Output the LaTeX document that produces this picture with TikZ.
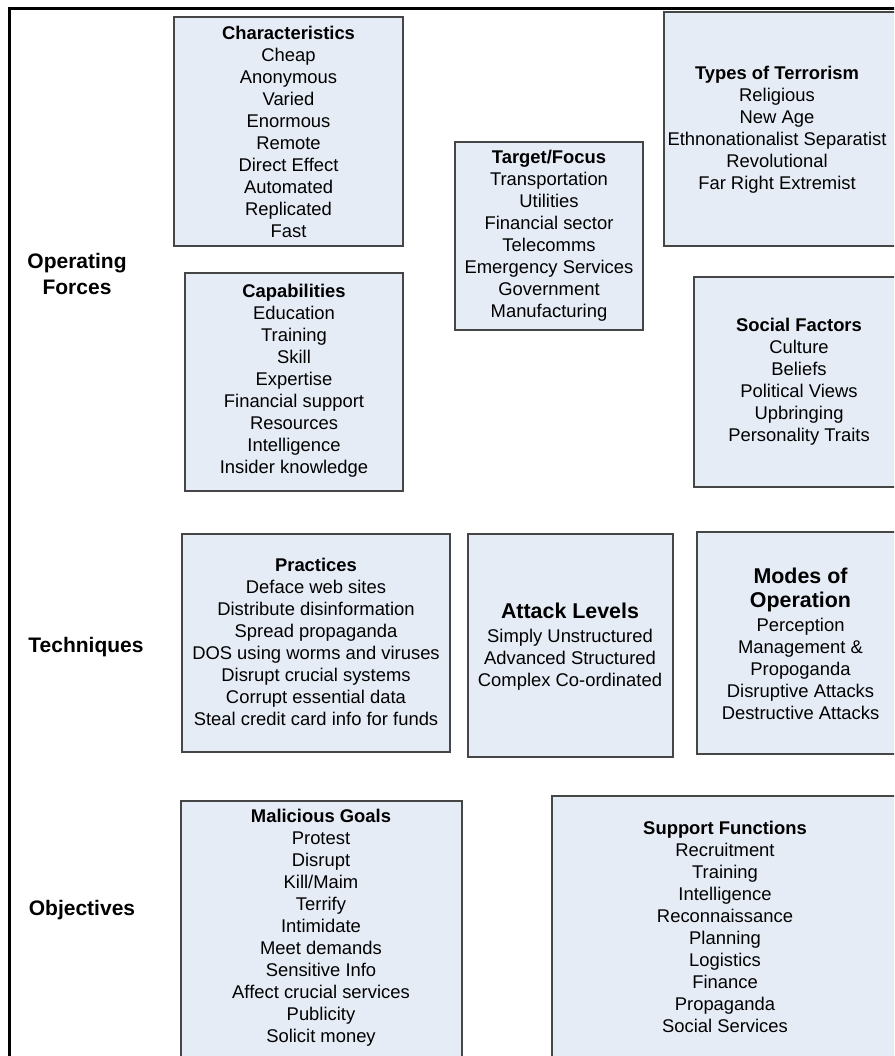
\documentclass[tikz,border=0pt]{standalone}
\usepackage{fontspec}
\setmainfont{Liberation Sans}
\definecolor{boxfill}{RGB}{230,236,246}
\definecolor{boxline}{RGB}{70,70,70}
\tikzset{
  boxshape/.style={draw=boxline, fill=boxfill, line width=1.3pt, rectangle, inner sep=0pt},
  boxtext/.style={align=center, inner sep=0pt, font=\fontsize{18.4}{22}\selectfont},
  sidelabel/.style={align=center, inner sep=0pt, font=\fontsize{21}{26}\selectfont\bfseries},
}
\newcommand{\bigHead}[1]{{\fontsize{21.4}{25}\selectfont\bfseries #1}}
\begin{document}
\begin{tikzpicture}[x=1pt,y=-1pt]
\useasboundingbox (0,0) rectangle (894,1056);
\clip (0,0) rectangle (894,1056);
% outer frame
\draw[line width=3pt] (9,1200) -- (9,9) -- (1000,9);

% boxes
\node[boxshape, minimum width=229pt, minimum height=229pt] (charBox) at (288.5,131.5) {};
\node[boxshape, minimum width=260pt, minimum height=234pt] (typesBox) at (794,129) {};
\node[boxshape, minimum width=188pt, minimum height=188pt] (targetBox) at (549,236) {};
\node[boxshape, minimum width=218pt, minimum height=218pt] (capBox) at (294,382) {};
\node[boxshape, minimum width=230pt, minimum height=210pt] (socialBox) at (809,382) {};
\node[boxshape, minimum width=268pt, minimum height=218pt] (pracBox) at (316,643) {};
\node[boxshape, minimum width=205pt, minimum height=223pt] (attackBox) at (570.5,645.5) {};
\node[boxshape, minimum width=230pt, minimum height=222pt] (modesBox) at (812,643) {};
\node[boxshape, minimum width=281pt, minimum height=320pt] (goalsBox) at (321.5,961) {};
\node[boxshape, minimum width=380pt, minimum height=320pt] (supportBox) at (742,956) {};

% texts
\node[boxtext] (charText) at (288.5,131.5) {\textbf{Characteristics}\\Cheap\\Anonymous\\Varied\\Enormous\\Remote\\Direct Effect\\Automated\\Replicated\\Fast};
\node[boxtext] (typesText) at (777,129.5) {\textbf{Types of Terrorism}\\Religious\\New Age\\Ethnonationalist Separatist\\Revolutional\\Far Right Extremist};
\node[boxtext] (targetText) at (549,236) {\textbf{Target/Focus}\\Transportation\\Utilities\\Financial sector\\Telecomms\\Emergency Services\\Government\\Manufacturing};
\node[boxtext] (capText) at (294,381) {\textbf{Capabilities}\\Education\\Training\\Skill\\Expertise\\Financial support\\Resources\\Intelligence\\Insider knowledge};
\node[boxtext] (socialText) at (799,382) {\textbf{Social Factors}\\Culture\\Beliefs\\Political Views\\Upbringing\\Personality Traits};
\node[boxtext] (pracText) at (316,642) {\textbf{Practices}\\Deface web sites\\Distribute disinformation\\Spread propaganda\\DOS using worms and viruses\\Disrupt crucial systems\\Corrupt essential data\\Steal credit card info for funds};
\node[boxtext] (attackText) at (570,647) {\bigHead{Attack Levels}\\[2pt]Simply Unstructured\\Advanced Structured\\Complex Co-ordinated};
\node[boxtext] (modesText) at (800.5,644) {\bigHead{Modes of}\\[2pt]\bigHead{Operation}\\[2pt]Perception\\Management \&\\Propoganda\\Disruptive Attacks\\Destructive Attacks};
\node[boxtext] (goalsText) at (321,928) {\textbf{Malicious Goals}\\Protest\\Disrupt\\Kill/Maim\\Terrify\\Intimidate\\Meet demands\\Sensitive Info\\Affect crucial services\\Publicity\\Solicit money};
\node[boxtext] (supportText) at (725,926.5) {\textbf{Support Functions}\\Recruitment\\Training\\Intelligence\\Reconnaissance\\Planning\\Logistics\\Finance\\Propaganda\\Social Services};

% side labels
\node[sidelabel] (opForces) at (77,274) {Operating\\Forces};
\node[sidelabel] (techLabel) at (86,647) {Techniques};
\node[sidelabel] (objLabel) at (82,910) {Objectives};
\end{tikzpicture}
\end{document}
